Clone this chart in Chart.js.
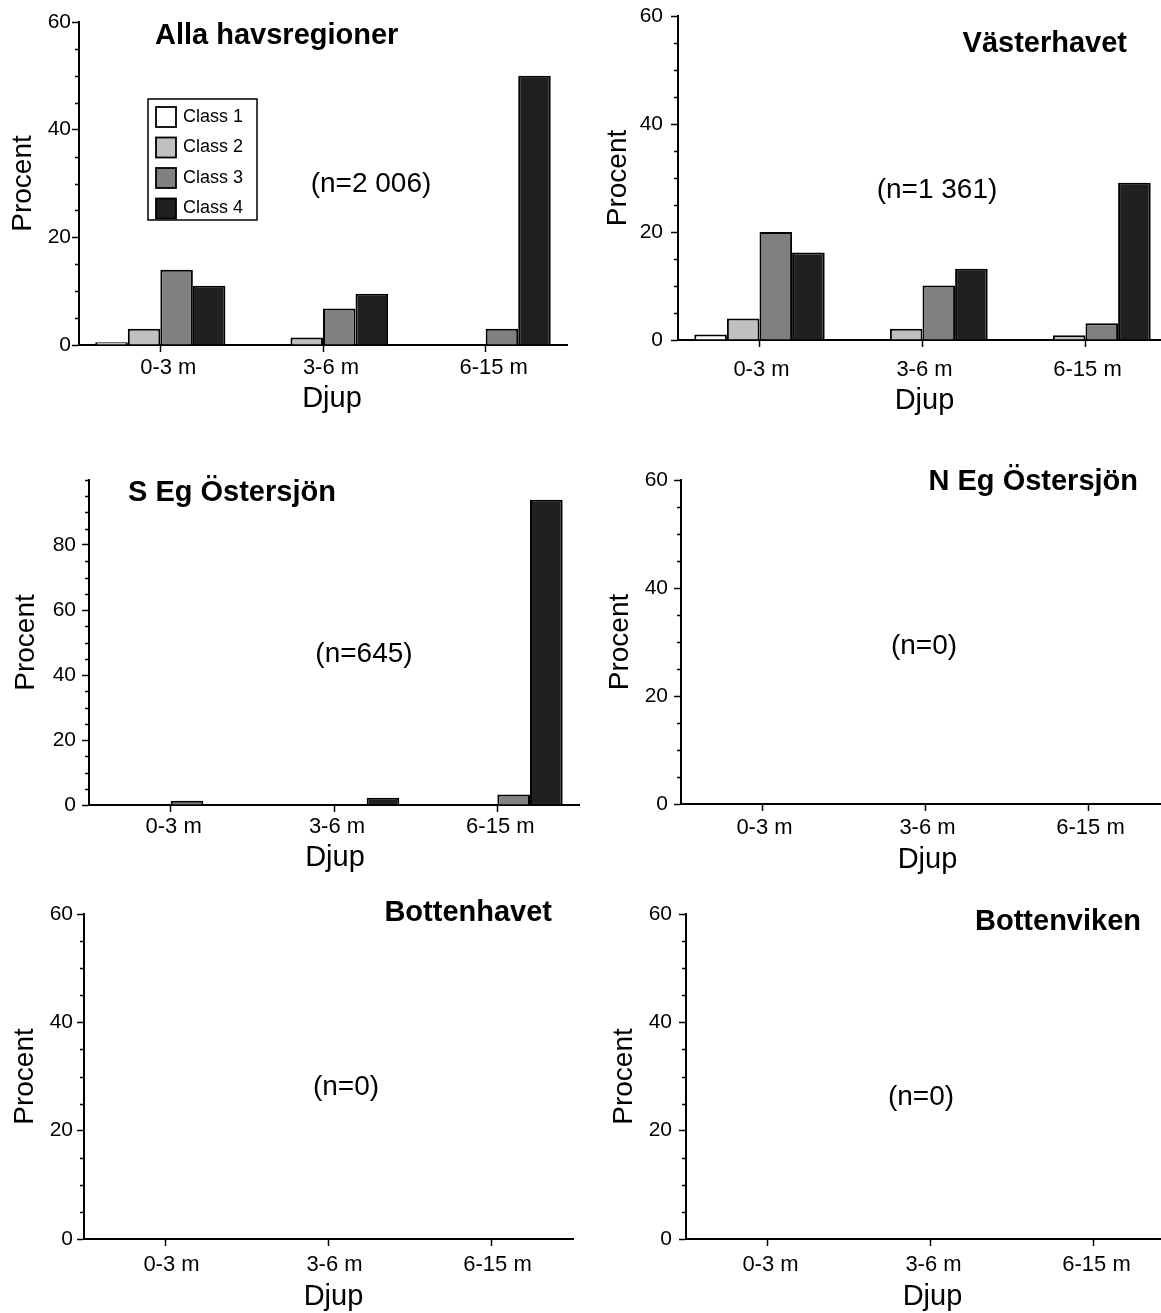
<!DOCTYPE html>
<html>
<head>
<meta charset="utf-8">
<script src="https://cdn.jsdelivr.net/npm/chart.js"></script>
<style>
  html, body { margin: 0; padding: 0; background: #fff; overflow: hidden; }
  #wrap { position: relative; width: 1161px; height: 1313px; overflow: hidden; }
  #wrap canvas { position: absolute; }
</style>
</head>
<body>
<div id="wrap"></div>
<script>
// Andel (%) per djupintervall och klass, en panel per havsregion
const djup = ['0-3 m', '3-6 m', '6-15 m'];
const klasser = ['Class 1', 'Class 2', 'Class 3', 'Class 4'];
const klassFarger = ['#ffffff', '#c0c0c0', '#808080', '#202020'];

// Alla havsregioner (n=2 006)
const allaClass1 = [0.5, 0, 0];
const allaClass2 = [3.0, 1.4, 0.1];
const allaClass3 = [14.0, 6.8, 3.0];
const allaClass4 = [11.0, 9.5, 50.0];

// Västerhavet (n=1 361)
const vastClass1 = [1.0, 0, 0];
const vastClass2 = [4.0, 2.1, 0.9];
const vastClass3 = [20.0, 10.1, 3.1];
const vastClass4 = [16.2, 13.2, 29.1];

// S Eg Östersjön (n=645)
const sEgClass1 = [0, 0, 0];
const sEgClass2 = [0, 0, 0];
const sEgClass3 = [1.3, 0, 3.2];
const sEgClass4 = [0, 2.2, 93.9];

// regioner utan data (n=0)
const tomClass = [0, 0, 0];

// y-axelns etiketter
const yTicks60 = [0, 20, 40, 60];
const yTicks100 = [0, 20, 40, 60, 80];

const FONT = "'Liberation Sans', Arial, sans-serif";
Chart.defaults.font.family = FONT;
Chart.defaults.color = '#000';

// placering av varje panel (axelhörn i sidans koordinater)
const paneler = [
  { titel: 'Alla havsregioner', n: '(n=2 006)', serier: [allaClass1, allaClass2, allaClass3, allaClass4],
    max: 60, yTicks: yTicks60, ax: 79, top: 22, w: 488, h: 323, yW: 73, xH: 70, lblPad: 3, lblDx: 8, yPad: 1,
    tPos: { x: 76, y: 14, align: 'left' }, nPos: { x: 292, y: 162 }, djupPos: { dx: 9, dy: 54 },
    legend: { x: 69, y: 77 } },
  { titel: 'Västerhavet', n: '(n=1 361)', serier: [vastClass1, vastClass2, vastClass3, vastClass4],
    max: 60, yTicks: yTicks60, ax: 678, top: 16, w: 489, h: 324, yW: 77, xH: 77, lblPad: 10, lblDx: 2, yPad: 8,
    tPos: { x: 449, y: 28, align: 'right' }, nPos: { x: 259, y: 174 }, djupPos: { dx: 2, dy: 61 } },
  { titel: 'S Eg Östersjön', n: '(n=645)', serier: [sEgClass1, sEgClass2, sEgClass3, sEgClass4],
    max: 100, yTicks: yTicks100, ax: 89, top: 480, w: 490, h: 325, yW: 80, xH: 69, lblPad: 2, lblDx: 3, yPad: 6,
    tPos: { x: 39, y: 13, align: 'left' }, nPos: { x: 275, y: 174 }, djupPos: { dx: 1, dy: 53 } },
  { titel: 'N Eg Östersjön', n: '(n=0)', serier: [tomClass, tomClass, tomClass, tomClass],
    max: 60, yTicks: yTicks60, ax: 681, top: 480, w: 489, h: 324, yW: 78, xH: 72, lblPad: 4, lblDx: 2, yPad: 6,
    tPos: { x: 457, y: 2, align: 'right' }, nPos: { x: 243, y: 166 }, djupPos: { dx: 2, dy: 56 } },
  { titel: 'Bottenhavet', n: '(n=0)', serier: [tomClass, tomClass, tomClass, tomClass],
    max: 60, yTicks: yTicks60, ax: 84, top: 914, w: 489, h: 325, yW: 76, xH: 74, lblPad: 6, lblDx: 6, yPad: 4,
    tPos: { x: 468, y: -1, align: 'right' }, nPos: { x: 262, y: 173 }, djupPos: { dx: 5, dy: 58 } },
  { titel: 'Bottenviken', n: '(n=0)', serier: [tomClass, tomClass, tomClass, tomClass],
    max: 60, yTicks: yTicks60, ax: 686, top: 914, w: 489, h: 325, yW: 79, xH: 74, lblPad: 6, lblDx: 3, yPad: 7,
    tPos: { x: 455, y: 8, align: 'right' }, nPos: { x: 235, y: 183 }, djupPos: { dx: 2, dy: 58 } }
];

// små skalstreck, rubrik, n-text, x-axelns titel och förklaring
const panelText = {
  id: 'panelText',
  afterDraw(chart, args, o) {
    const { ctx, chartArea: a } = chart;
    const y = chart.scales.y;
    ctx.save();
    ctx.strokeStyle = '#000';
    ctx.lineWidth = 1.5;
    for (let v = 0; v <= y.max; v += 5) {
      if (o.yTicks.includes(v)) continue;
      const py = Math.round(y.getPixelForValue(v)) + 0.5;
      ctx.beginPath();
      ctx.moveTo(a.left - 4, py);
      ctx.lineTo(a.left, py);
      ctx.stroke();
    }

    ctx.fillStyle = '#000';
    ctx.textBaseline = 'middle';
    ctx.font = 'bold 29px ' + FONT;
    ctx.textAlign = o.tPos.align;
    ctx.fillText(o.titel, a.left + o.tPos.x, a.top + o.tPos.y);

    ctx.font = '28px ' + FONT;
    ctx.textAlign = 'center';
    ctx.fillText(o.n, a.left + o.nPos.x, a.top + o.nPos.y);

    ctx.font = '29px ' + FONT;
    ctx.fillText('Djup', (a.left + a.right) / 2 + o.djupPos.dx, a.bottom + o.djupPos.dy);

    if (o.legend) {
      const bx = a.left + o.legend.x, by = a.top + o.legend.y;
      ctx.lineWidth = 1.5;
      ctx.strokeRect(bx, by, 109, 121);
      ctx.font = '18px ' + FONT;
      ctx.textAlign = 'left';
      chart.data.datasets.forEach((ds, i) => {
        const sy = by + 8 + i * 30.5;
        ctx.fillStyle = ds.backgroundColor;
        ctx.fillRect(bx + 8, sy, 20, 20);
        ctx.strokeStyle = '#000';
        ctx.lineWidth = 1.8;
        ctx.strokeRect(bx + 8, sy, 20, 20);
        ctx.fillStyle = '#000';
        ctx.fillText(ds.label, bx + 35, sy + 10);
      });
    }
    ctx.restore();
  }
};

const wrap = document.getElementById('wrap');
const padTop = 30, padRight = 8;

paneler.forEach(p => {
  const canvas = document.createElement('canvas');
  const cw = p.yW + p.w + padRight;
  const ch = padTop + p.h + p.xH;
  canvas.width = cw;
  canvas.height = ch;
  canvas.style.width = cw + 'px';
  canvas.style.height = ch + 'px';
  canvas.style.left = (p.ax - p.yW) + 'px';
  canvas.style.top = (p.top - padTop) + 'px';
  wrap.appendChild(canvas);

  new Chart(canvas.getContext('2d'), {
    type: 'bar',
    data: {
      labels: djup,
      datasets: klasser.map((k, i) => ({
        label: k,
        data: p.serier[i],
        backgroundColor: klassFarger[i],
        borderColor: '#000',
        borderWidth: 2,
        categoryPercentage: 0.8,
        barPercentage: 1.0
      }))
    },
    options: {
      responsive: false,
      maintainAspectRatio: false,
      animation: false,
      layout: { padding: { top: padTop, right: padRight, left: 0, bottom: 0 } },
      plugins: {
        legend: { display: false },
        tooltip: { enabled: false },
        panelText: { titel: p.titel, n: p.n, tPos: p.tPos, nPos: p.nPos, djupPos: p.djupPos,
                     legend: p.legend, yTicks: p.yTicks }
      },
      scales: {
        x: {
          grid: { drawOnChartArea: false, offset: false, tickLength: 7, tickWidth: 1.5, tickColor: '#000' },
          border: { color: '#000', width: 2 },
          ticks: { font: { size: 22 }, padding: p.lblPad, labelOffset: p.lblDx, maxRotation: 0, autoSkip: false },
          afterFit: s => { s.height = p.xH; }
        },
        y: {
          min: 0,
          max: p.max,
          grid: { drawOnChartArea: false, tickLength: 7, tickWidth: 1.5, tickColor: '#000' },
          border: { color: '#000', width: 2 },
          ticks: { font: { size: 21 }, padding: p.yPad },
          afterBuildTicks: s => { s.ticks = p.yTicks.map(v => ({ value: v })); },
          title: { display: true, text: 'Procent', font: { size: 28, lineHeight: 1.2 }, padding: 0 },
          afterFit: s => { s.width = p.yW; }
        }
      }
    },
    plugins: [panelText]
  });
});
</script>
</body>
</html>
